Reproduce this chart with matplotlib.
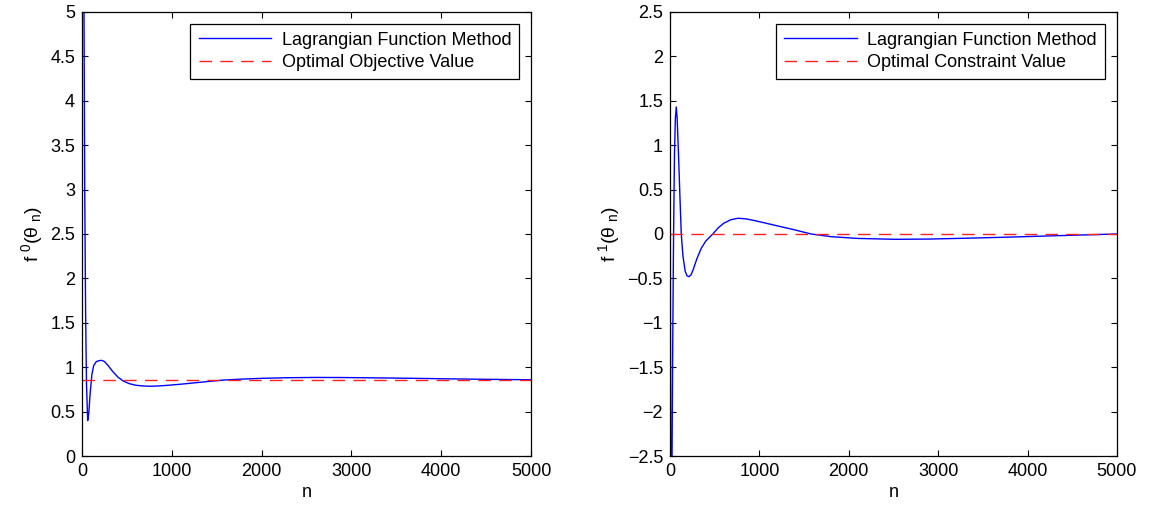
import matplotlib
matplotlib.use("Agg")
import matplotlib.pyplot as plt

plt.rcParams['font.family'] = ['Liberation Sans', 'DejaVu Sans']
plt.rcParams['mathtext.default'] = 'regular'

# Left panel: objective f0
n_left = [0, 4, 10, 20, 30, 40, 50, 63, 75, 90, 110, 130, 160, 190, 219, 250, 290,
          340, 400, 460, 530, 600, 680, 757, 850, 950, 1100, 1250, 1400, 1570, 1750,
          2000, 2300, 2610, 2900, 3300, 3700, 4100, 4500, 5000]
f0_vals = [0.12, 6.0, 9.0, 5.5, 3.0, 1.6, 0.8, 0.40, 0.48, 0.70, 0.92, 1.02, 1.065, 1.075,
           1.078, 1.065, 1.02, 0.955, 0.89, 0.845, 0.815, 0.798, 0.79, 0.787, 0.79, 0.797,
           0.81, 0.825, 0.84, 0.856, 0.866, 0.876, 0.883, 0.886, 0.885, 0.881, 0.876,
           0.87, 0.865, 0.86]
f0_opt = 0.86

# Right panel: constraint f1
n_right = [0, 5, 12, 20, 30, 40, 50, 60, 70, 80, 95, 110, 126, 145, 170, 190, 211, 235,
           260, 300, 350, 400, 479, 540, 600, 680, 760, 850, 950, 1100, 1250, 1400, 1578,
           1800, 2100, 2520, 2900, 3300, 3800, 4300, 5000]
f1_vals = [2.6, -1.0, -4.0, -3.0, -1.3, 0.0, 0.9, 1.3, 1.43, 1.3, 0.9, 0.45, 0.0, -0.25,
           -0.42, -0.47, -0.48, -0.46, -0.40, -0.28, -0.16, -0.08, 0.0, 0.07, 0.12, 0.16,
           0.177, 0.17, 0.15, 0.115, 0.08, 0.045, 0.0, -0.03, -0.05, -0.06, -0.057,
           -0.048, -0.035, -0.02, 0.0]
f1_opt = 0.0

x_ticks = [0, 1000, 2000, 3000, 4000, 5000]
y_ticks_left = [0, 0.5, 1, 1.5, 2, 2.5, 3, 3.5, 4, 4.5, 5]
y_ticks_right = [-2.5, -2, -1.5, -1, -0.5, 0, 0.5, 1, 1.5, 2, 2.5]

fig = plt.figure(figsize=(11.52, 5.12), dpi=100)
ax1 = fig.add_axes([0.0712, 0.109, 0.3898, 0.868])
ax2 = fig.add_axes([0.5816, 0.109, 0.3880, 0.868])

def fmt(v):
    s = ('%g' % v)
    return s.replace('-', '\u2212')

panels = [
    (ax1, n_left, f0_vals, f0_opt, 'Optimal Objective Value', y_ticks_left, (0, 5),
     r'f$^{\ 0}$($\theta_{\ n}$)'),
    (ax2, n_right, f1_vals, f1_opt, 'Optimal Constraint Value', y_ticks_right, (-2.5, 2.5),
     r'f$^{\ 1}$($\theta_{\ n}$)'),
]

for ax, n, vals, opt, optlabel, yt, ylim, ylab in panels:
    ax.plot(n, vals, color='#0000ff', lw=1.0, label='Lagrangian Function Method')
    ax.plot([0, 5000], [opt, opt], color='#ff2020', lw=1.0, ls=(0, (9, 6)), label=optlabel)
    ax.set_xlim(0, 5000)
    ax.set_ylim(*ylim)
    ax.set_xticks(x_ticks)
    ax.set_xticklabels([fmt(v) for v in x_ticks])
    ax.set_yticks(yt)
    ax.set_yticklabels([fmt(v) for v in yt])
    ax.tick_params(direction='in', top=True, right=True, labelsize=13, length=4, width=0.8, pad=5)
    for sp in ax.spines.values():
        sp.set_linewidth(0.9)
    ax.set_xlabel('n', fontsize=13, labelpad=3)
    ax.set_ylabel(ylab, fontsize=14, labelpad=4)
    leg = ax.legend(loc='upper right', fontsize=13, fancybox=False, framealpha=1,
                    edgecolor='black', borderaxespad=0.65, handlelength=4.0,
                    borderpad=0.45, labelspacing=0.3, handletextpad=0.6)
    leg.get_frame().set_linewidth(0.9)

fig.savefig('out.png', dpi=100)
